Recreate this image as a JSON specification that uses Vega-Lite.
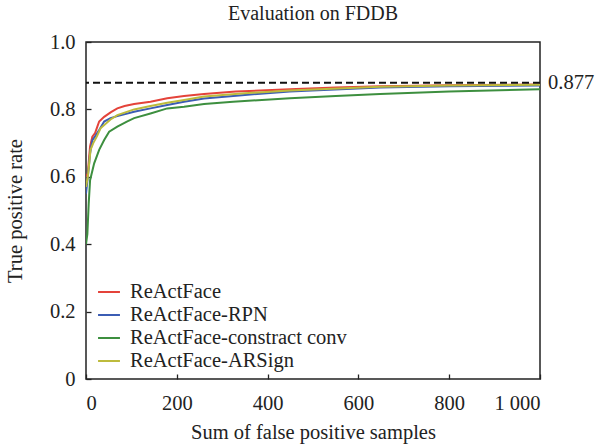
{
  "$schema": "https://vega.github.io/schema/vega-lite/v6.json",
  "autosize": "none",
  "width": 454,
  "height": 337,
  "padding": {"left": 86, "top": 42, "right": 55, "bottom": 69},
  "background": "white",
  "config": {
    "font": "Liberation Serif",
    "view": {"stroke": "#222", "strokeWidth": 1.5},
    "axis": {"grid": false, "domain": false, "labelFont": "Liberation Serif", "titleFont": "Liberation Serif", "labelFontSize": 20.5, "titleFontSize": 20.5, "titleFontWeight": "normal", "labelColor": "#222", "titleColor": "#222", "tickColor": "#222", "tickSize": -5, "tickWidth": 1.3},
    "legend": {"labelFont": "Liberation Serif", "labelFontSize": 20.5, "labelColor": "#222", "labelLimit": 0}
  },
  "title": {"text": "Evaluation on FDDB", "font": "Liberation Serif", "fontSize": 20, "fontWeight": "normal", "color": "#222", "offset": 8},
  "layer": [
    {
      "data": {"values": [
        {"s": "ReActFace", "x": 0, "y": 0.6},
        {"s": "ReActFace", "x": 4, "y": 0.61},
        {"s": "ReActFace", "x": 7, "y": 0.66},
        {"s": "ReActFace", "x": 9, "y": 0.69},
        {"s": "ReActFace", "x": 14, "y": 0.719},
        {"s": "ReActFace", "x": 20, "y": 0.73},
        {"s": "ReActFace", "x": 25, "y": 0.749},
        {"s": "ReActFace", "x": 29, "y": 0.764},
        {"s": "ReActFace", "x": 40, "y": 0.778},
        {"s": "ReActFace", "x": 55, "y": 0.792},
        {"s": "ReActFace", "x": 69, "y": 0.803},
        {"s": "ReActFace", "x": 85, "y": 0.81},
        {"s": "ReActFace", "x": 106, "y": 0.816},
        {"s": "ReActFace", "x": 142, "y": 0.823},
        {"s": "ReActFace", "x": 179, "y": 0.833},
        {"s": "ReActFace", "x": 216, "y": 0.84},
        {"s": "ReActFace", "x": 260, "y": 0.846},
        {"s": "ReActFace", "x": 330, "y": 0.853},
        {"s": "ReActFace", "x": 449, "y": 0.86},
        {"s": "ReActFace", "x": 550, "y": 0.865},
        {"s": "ReActFace", "x": 648, "y": 0.869},
        {"s": "ReActFace", "x": 800, "y": 0.872},
        {"s": "ReActFace", "x": 1000, "y": 0.874},
        {"s": "ReActFace-RPN", "x": 0, "y": 0.55},
        {"s": "ReActFace-RPN", "x": 4, "y": 0.6},
        {"s": "ReActFace-RPN", "x": 7, "y": 0.64},
        {"s": "ReActFace-RPN", "x": 9, "y": 0.67},
        {"s": "ReActFace-RPN", "x": 14, "y": 0.709},
        {"s": "ReActFace-RPN", "x": 20, "y": 0.72},
        {"s": "ReActFace-RPN", "x": 29, "y": 0.739},
        {"s": "ReActFace-RPN", "x": 40, "y": 0.764},
        {"s": "ReActFace-RPN", "x": 54, "y": 0.774},
        {"s": "ReActFace-RPN", "x": 69, "y": 0.78},
        {"s": "ReActFace-RPN", "x": 106, "y": 0.793},
        {"s": "ReActFace-RPN", "x": 142, "y": 0.803},
        {"s": "ReActFace-RPN", "x": 179, "y": 0.813},
        {"s": "ReActFace-RPN", "x": 216, "y": 0.823},
        {"s": "ReActFace-RPN", "x": 260, "y": 0.832},
        {"s": "ReActFace-RPN", "x": 350, "y": 0.843},
        {"s": "ReActFace-RPN", "x": 449, "y": 0.853},
        {"s": "ReActFace-RPN", "x": 648, "y": 0.865},
        {"s": "ReActFace-RPN", "x": 800, "y": 0.869},
        {"s": "ReActFace-RPN", "x": 1000, "y": 0.871},
        {"s": "ReActFace-constract conv", "x": 0, "y": 0.4},
        {"s": "ReActFace-constract conv", "x": 3, "y": 0.43},
        {"s": "ReActFace-constract conv", "x": 6, "y": 0.522},
        {"s": "ReActFace-constract conv", "x": 9, "y": 0.59},
        {"s": "ReActFace-constract conv", "x": 18, "y": 0.64},
        {"s": "ReActFace-constract conv", "x": 29, "y": 0.68},
        {"s": "ReActFace-constract conv", "x": 40, "y": 0.709},
        {"s": "ReActFace-constract conv", "x": 51, "y": 0.734},
        {"s": "ReActFace-constract conv", "x": 69, "y": 0.749},
        {"s": "ReActFace-constract conv", "x": 90, "y": 0.764},
        {"s": "ReActFace-constract conv", "x": 106, "y": 0.774},
        {"s": "ReActFace-constract conv", "x": 142, "y": 0.788},
        {"s": "ReActFace-constract conv", "x": 179, "y": 0.803},
        {"s": "ReActFace-constract conv", "x": 216, "y": 0.808},
        {"s": "ReActFace-constract conv", "x": 260, "y": 0.816},
        {"s": "ReActFace-constract conv", "x": 324, "y": 0.823},
        {"s": "ReActFace-constract conv", "x": 449, "y": 0.833},
        {"s": "ReActFace-constract conv", "x": 550, "y": 0.84},
        {"s": "ReActFace-constract conv", "x": 648, "y": 0.846},
        {"s": "ReActFace-constract conv", "x": 800, "y": 0.853},
        {"s": "ReActFace-constract conv", "x": 1000, "y": 0.86},
        {"s": "ReActFace-ARSign", "x": 0, "y": 0.57},
        {"s": "ReActFace-ARSign", "x": 4, "y": 0.6},
        {"s": "ReActFace-ARSign", "x": 7, "y": 0.64},
        {"s": "ReActFace-ARSign", "x": 10, "y": 0.68},
        {"s": "ReActFace-ARSign", "x": 16, "y": 0.7},
        {"s": "ReActFace-ARSign", "x": 24, "y": 0.72},
        {"s": "ReActFace-ARSign", "x": 32, "y": 0.744},
        {"s": "ReActFace-ARSign", "x": 54, "y": 0.77},
        {"s": "ReActFace-ARSign", "x": 69, "y": 0.783},
        {"s": "ReActFace-ARSign", "x": 106, "y": 0.8},
        {"s": "ReActFace-ARSign", "x": 142, "y": 0.81},
        {"s": "ReActFace-ARSign", "x": 179, "y": 0.82},
        {"s": "ReActFace-ARSign", "x": 216, "y": 0.828},
        {"s": "ReActFace-ARSign", "x": 260, "y": 0.838},
        {"s": "ReActFace-ARSign", "x": 350, "y": 0.848},
        {"s": "ReActFace-ARSign", "x": 449, "y": 0.856},
        {"s": "ReActFace-ARSign", "x": 648, "y": 0.867},
        {"s": "ReActFace-ARSign", "x": 800, "y": 0.871},
        {"s": "ReActFace-ARSign", "x": 1000, "y": 0.873}
      ]},
      "mark": {"type": "line", "strokeWidth": 2, "clip": true},
      "encoding": {
        "x": {"field": "x", "type": "quantitative", "scale": {"domain": [0, 1000], "nice": false}, "axis": {"values": [0, 200, 400, 600, 800, 1000], "title": "Sum of false positive samples", "labelPadding": 19, "titlePadding": 9, "labelExpr": "datum.value == 1000 ? '1 000' : datum.label"}},
        "y": {"field": "y", "type": "quantitative", "scale": {"domain": [0, 1], "nice": false}, "axis": {"values": [0, 0.2, 0.4, 0.6, 0.8, 1.0], "title": "True positive rate", "labelPadding": 16, "titlePadding": 24, "labelExpr": "datum.value == 0 ? '0' : format(datum.value, '.1f')"}},
        "color": {"field": "s", "type": "nominal", "sort": ["ReActFace", "ReActFace-RPN", "ReActFace-constract conv", "ReActFace-ARSign"], "scale": {"domain": ["ReActFace", "ReActFace-RPN", "ReActFace-constract conv", "ReActFace-ARSign"], "range": ["#e4433a", "#3b5db4", "#3d8f3f", "#bdbb3c"]}, "legend": {"title": null, "orient": "none", "legendX": 11, "legendY": 238, "symbolType": "stroke", "symbolSize": 480, "symbolStrokeWidth": 2, "rowPadding": 0, "labelOffset": 9}},
        "order": {"field": "x", "type": "quantitative"}
      }
    },
    {
      "data": {"values": [{"v": 0.879, "lab": "0.877", "x": 1000}]},
      "layer": [
        {"mark": {"type": "rule", "strokeDash": [7, 4], "strokeWidth": 2, "color": "#111"}, "encoding": {"y": {"field": "v", "type": "quantitative"}}},
        {"mark": {"type": "text", "align": "left", "baseline": "middle", "dx": 8, "fontSize": 20.5, "font": "Liberation Serif", "color": "#222"}, "encoding": {"x": {"field": "x", "type": "quantitative"}, "y": {"field": "v", "type": "quantitative"}, "text": {"field": "lab"}}}
      ]
    }
  ]
}
